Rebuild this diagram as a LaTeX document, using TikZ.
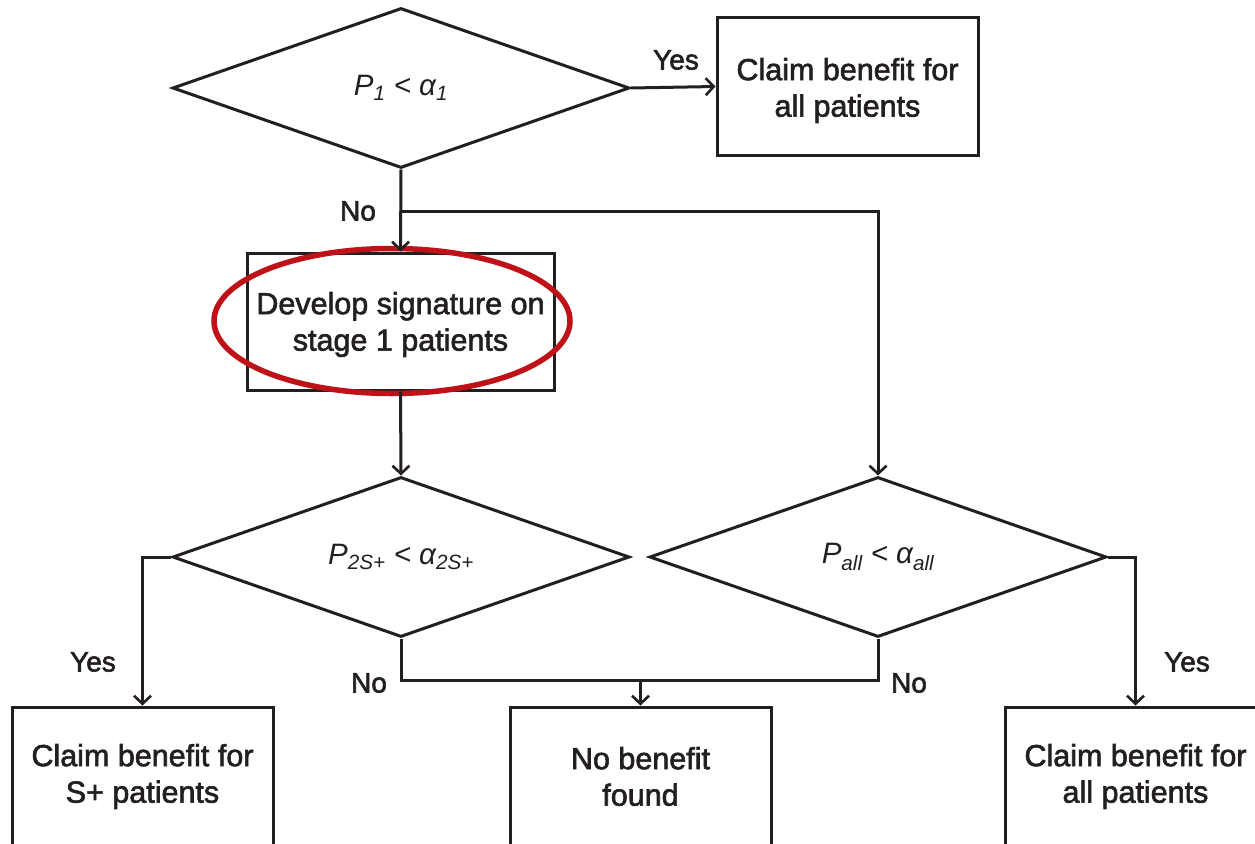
\documentclass[tikz,border=0pt]{standalone}
\usepackage{fontspec}
\setmainfont{Liberation Sans}
\newfontfamily\medfont[RawFeature={embolden=2.0}]{Liberation Sans}
\usetikzlibrary{shapes.geometric,arrows.meta}
\definecolor{ink}{RGB}{35,31,32}
\definecolor{ringred}{RGB}{190,18,24}
\begin{document}
\begin{tikzpicture}[x=1pt,y=-1pt,
  line width=3pt, draw=ink, text=ink,
  box/.style={draw=ink, line width=3pt, rectangle, inner sep=0pt,
    minimum width=261pt, minimum height=137pt},
  boxtext/.style={inner sep=0pt, align=center, text=ink,
    font=\medfont\fontsize{30.5}{36.5}\selectfont},
  dec/.style={draw=ink, line width=3pt, diamond, inner sep=0pt, aspect=2.8,
    minimum width=457pt, minimum height=160pt,
    font=\fontsize{29.5}{34}\selectfont\itshape},
  lbl/.style={font=\medfont\fontsize{28}{32}\selectfont, inner sep=0pt},
  arr/.style={draw=ink, line width=3pt, -{Straight Barb[length=8pt,width=17pt,line width=2.6pt]}},
  con/.style={draw=ink, line width=3pt}]
\useasboundingbox (0,0) rectangle (1255,843);
\clip (0,0) rectangle (1255,843);
\fill[white] (0,0) rectangle (1255,843);

% decisions
\node[dec] (d1) at (401,88) {P\textsubscript{1} < α\textsubscript{1}};
\node[dec] (d2) at (401,557) {P\textsubscript{2S+} < α\textsubscript{2S+}};
\node[dec] (d3) at (878,557) {P\textsubscript{all} < α\textsubscript{all}};

% boxes
\node[box] (b1) at (847.5,86.5) {};
\node[box, minimum width=307pt] (b2) at (400.5,321.5) {};
\node[box, minimum height=139pt] (b4) at (142.5,776.5) {};
\node[box, minimum height=139pt] (b5) at (640.5,776.5) {};
\node[box, minimum height=139pt] (b6) at (1135.5,776.5) {};

\node[boxtext, yshift=-4pt] (t1) at (b1) {Claim benefit for\\all patients};
\node[boxtext, yshift=-3pt] (t2) at (b2) {Develop signature on\\stage 1 patients};
\node[boxtext, yshift=0pt] (t4) at (b4) {Claim benefit for\\S+ patients};
\node[boxtext, yshift=0pt] (t5) at (b5) {No benefit\\found};
\node[boxtext, yshift=0pt] (t6) at (b6) {Claim benefit for\\all patients};

% red ring
\node[ellipse, draw=ringred, line width=5.5pt, minimum width=356pt, minimum height=145pt, inner sep=0pt] (ring) at (392,321) {};

% coordinates
\coordinate (br) at (401,211);
\coordinate (m) at (640.5,680);

% connectors
\draw[arr] (d1.east) -- (b1.west);
\draw[arr] (d1.south) -- (b2.north);
\draw[arr] (br) -| (d3.north);
\draw[arr] (b2.south) -- (d2.north);
\draw[arr] (d2.west) -| (b4.north);
\draw[con] (d2.south) |- (m);
\draw[con] (d3.south) |- (m);
\draw[arr] (m) -- (b5.north);
\draw[arr] (d3.east) -| (b6.north);

% labels
\node[lbl] (l1) at (676,60) {Yes};
\node[lbl] (l2) at (358,211) {No};
\node[lbl] (l3) at (93,662) {Yes};
\node[lbl] (l4) at (369,683) {No};
\node[lbl] (l5) at (909,683) {No};
\node[lbl] (l6) at (1187,662) {Yes};
\end{tikzpicture}
\end{document}
